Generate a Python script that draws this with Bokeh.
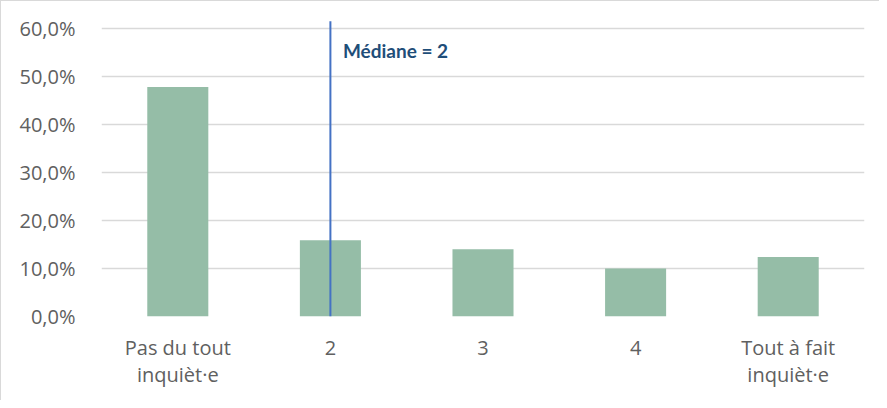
from bokeh.plotting import figure
from bokeh.models import FixedTicker, CustomJSTickFormatter, ColumnDataSource, Label
from bokeh.embed import file_html
from bokeh.resources import INLINE

categories = ["Pas du tout\ninquièt·e", "2", "3", "4", "Tout à fait\ninquièt·e"]
shares = [47.8, 15.9, 14.0, 10.0, 12.4]
y_ticks = [0, 10, 20, 30, 40, 50, 60]
median_category = "2"
median_top = 61.5
median_text = "Médiane = 2"

src = ColumnDataSource(dict(cat=categories, val=shares))

p = figure(
    x_range=categories, y_range=(0, 61.875),
    width=879, height=400,
    output_backend="svg", toolbar_location=None,
    min_border_left=100, min_border_right=16,
    min_border_top=18, min_border_bottom=85,
)
p.styles = {"border-left": "1px solid #d9d9d9", "border-top": "1px solid #d9d9d9"}
p.outline_line_color = None
p.background_fill_color = "white"
p.border_fill_color = "white"

p.vbar(x="cat", top="val", width=0.4, source=src, fill_color="#95bda7", line_color=None)

p.segment(x0=[median_category], x1=[median_category], y0=[0], y1=[median_top],
          line_color="#4472c4", line_width=2)

p.add_layout(Label(x=0.5 + categories.index(median_category) + 0.082, y=55.4, text=median_text,
                   text_font="Lato", text_font_style="bold", text_font_size="19px",
                   text_color="#1f4e79", text_baseline="middle"))

p.xgrid.grid_line_color = None
p.ygrid.grid_line_color = "#d9d9d9"
p.ygrid.grid_line_width = 1.5
p.ygrid.ticker = FixedTicker(ticks=y_ticks)

p.yaxis.ticker = FixedTicker(ticks=y_ticks)
p.yaxis.formatter = CustomJSTickFormatter(code="return tick.toFixed(1).replace('.', ',') + '%';")
for ax in (p.xaxis[0], p.yaxis[0]):
    ax.axis_line_color = None
    ax.major_tick_line_color = None
    ax.minor_tick_line_color = None
    ax.major_label_text_font = "Open Sans"
    ax.major_label_text_font_size = "20px"
    ax.major_label_text_color = "#606060"
p.yaxis.major_label_standoff = 20
p.xaxis.major_label_standoff = 11
p.xaxis.major_label_text_line_height = 1.02

open("out.html", "w").write(file_html(p, INLINE))
